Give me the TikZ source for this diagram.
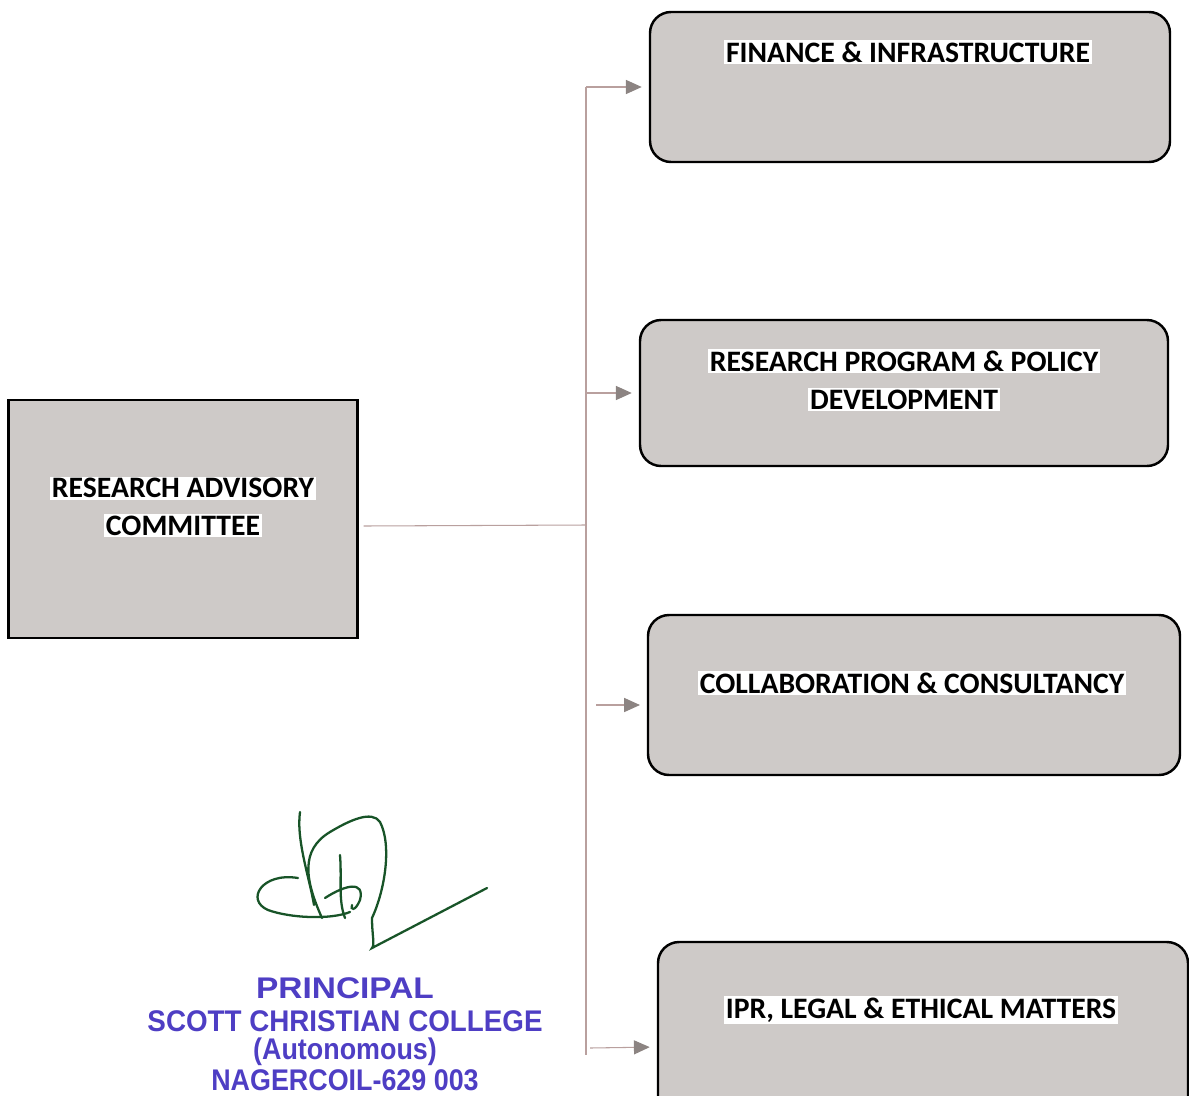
\documentclass[tikz,border=0pt]{standalone}
\usepackage{fontspec}
\usepackage{xcolor}
\usepackage{tikz}
\usetikzlibrary{arrows.meta}
\setmainfont{Carlito}
\newfontfamily\stampfont{Liberation Sans}
\definecolor{boxgray}{RGB}{206,202,200}
\definecolor{linered}{RGB}{185,160,158}
\definecolor{tipgray}{RGB}{140,132,130}
\definecolor{stampblue}{RGB}{78,62,196}
\definecolor{inkgreen}{RGB}{24,84,40}
\newcommand{\hl}[1]{{\setlength{\fboxsep}{1pt}\colorbox{white}{#1}}}

\begin{document}
\begin{tikzpicture}[x=0.02cm,y=-0.02cm,
    unit box/.style={draw,line width=1.4pt,fill=boxgray,rounded corners=12pt,inner sep=0pt},
    head box/.style={draw,line width=1.4pt,fill=boxgray,inner sep=0pt},
    box label/.style={font=\fontsize{16.9}{21.5}\selectfont\bfseries,align=center},
    link/.style={draw=linered,line width=0.6pt},
    arrow link/.style={link,-{Triangle[length=9pt,width=8pt,fill=tipgray,color=tipgray]},shorten >=4pt},
    stamp/.style={text=stampblue,font=\stampfont\bfseries\fontsize{17}{17}\selectfont,inner sep=0pt}]
        \useasboundingbox (0,0) rectangle (1189,1095);
        % boxes
        \node[head box,minimum width=349*0.02cm,minimum height=238*0.02cm] (rac) at (183,519) {};
        \node[unit box,minimum width=520*0.02cm,minimum height=150*0.02cm] (fin) at (910,87) {};
        \node[unit box,minimum width=528*0.02cm,minimum height=146*0.02cm] (rpp) at (904,393) {};
        \node[unit box,minimum width=532*0.02cm,minimum height=160*0.02cm] (col) at (914,695) {};
        \node[unit box,minimum width=530*0.02cm,minimum height=210*0.02cm] (ipr) at (923,1047) {};
        % labels
        \node[box label] (raclabel) at (183,507) {\hl{RESEARCH ADVISORY}\\\hl{COMMITTEE}};
        \node[box label] (finlabel) at (908,52) {\hl{FINANCE \& INFRASTRUCTURE}};
        \node[box label] (rpplabel) at (904,380) {\hl{RESEARCH PROGRAM \& POLICY}\\\hl{DEVELOPMENT}};
        \node[box label] (collabel) at (912,683) {\hl{COLLABORATION \& CONSULTANCY}};
        \node[box label] (iprlabel) at (921,1010) {\hl{IPR, LEGAL \& ETHICAL MATTERS}};
        % connectors
        \coordinate (top) at (586,87);
        \coordinate (bottom) at (586,1055);
        \coordinate (mid) at (586,525);
        \draw[link] (top) -- (bottom);
        \draw[link] (rac.east) ++(5,7) -- (mid);
        \draw[arrow link] (top) -- (fin.west);
        \draw[arrow link] (rpp.west -| top) -- (rpp.west);
        \draw[arrow link] (col.west -| top) ++(10,10) -- ++(51,0);
        \draw[arrow link] (ipr.west -| top) ++(4,1) -- (ipr.west);
        % signature
        \draw[inkgreen,line width=1.3pt,line cap=round]
          (300,812) .. controls (296,840) and (310,880) .. (314,905)
          (298,878) .. controls (262,872) and (245,900) .. (268,910)
          .. controls (290,918) and (330,920) .. (350,912)
          (322,918) .. controls (305,880) and (300,850) .. (330,832)
          .. controls (350,820) and (372,810) .. (380,822)
          .. controls (392,845) and (385,890) .. (372,918)
          (340,855) .. controls (342,880) and (338,900) .. (345,918)
          (325,898) .. controls (345,885) and (365,880) .. (360,900)
          .. controls (355,912) and (350,910) .. (352,905)
          (372,918) .. controls (372,935) and (375,945) .. (372,948)
          -- (487,888);
        % stamp
        \node[stamp,xscale=1.12] (principal) at (345,988) {PRINCIPAL};
        \node[stamp,xscale=0.93] (college) at (345,1021) {SCOTT CHRISTIAN COLLEGE};
        \node[stamp,xscale=0.9] (autonomous) at (345,1052) {(Autonomous)};
        \node[stamp,xscale=0.9] (place) at (345,1080) {NAGERCOIL-629 003};
      \end{tikzpicture}
\end{document}
